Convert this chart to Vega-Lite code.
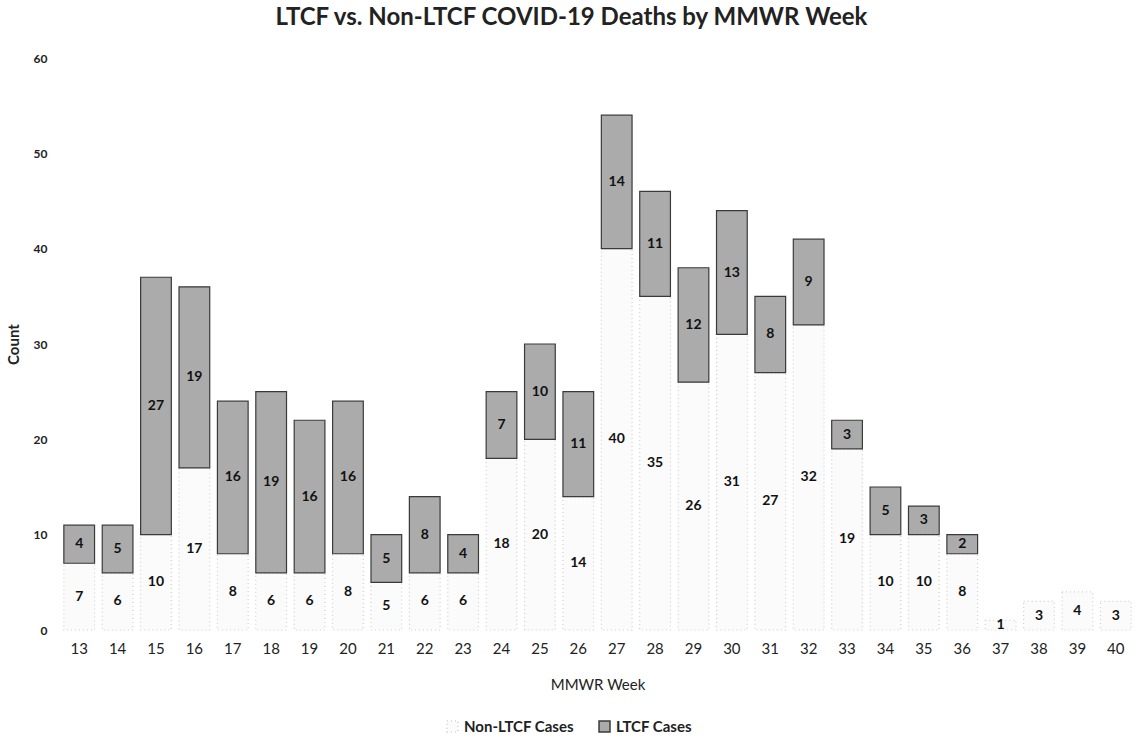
{
  "$schema": "https://vega.github.io/schema/vega-lite/v6.json",
  "width": 1075,
  "height": 572,
  "autosize": {"type": "none"},
  "padding": {"left": 60, "top": 58, "right": 3, "bottom": 108},
  "background": "white",
  "config": {"font": "Lato", "view": {"stroke": null}},
  "title": {
    "text": "LTCF vs. Non-LTCF COVID-19 Deaths by MMWR Week",
    "fontSize": 24,
    "fontWeight": "bold",
    "color": "#222",
    "anchor": "middle",
    "dx": -26,
    "offset": 22
  },
  "data": {
    "values": [
      {"week": 13, "type": "Non-LTCF Cases", "count": 7}, {"week": 13, "type": "LTCF Cases", "count": 4},
      {"week": 14, "type": "Non-LTCF Cases", "count": 6}, {"week": 14, "type": "LTCF Cases", "count": 5},
      {"week": 15, "type": "Non-LTCF Cases", "count": 10}, {"week": 15, "type": "LTCF Cases", "count": 27},
      {"week": 16, "type": "Non-LTCF Cases", "count": 17}, {"week": 16, "type": "LTCF Cases", "count": 19},
      {"week": 17, "type": "Non-LTCF Cases", "count": 8}, {"week": 17, "type": "LTCF Cases", "count": 16},
      {"week": 18, "type": "Non-LTCF Cases", "count": 6}, {"week": 18, "type": "LTCF Cases", "count": 19},
      {"week": 19, "type": "Non-LTCF Cases", "count": 6}, {"week": 19, "type": "LTCF Cases", "count": 16},
      {"week": 20, "type": "Non-LTCF Cases", "count": 8}, {"week": 20, "type": "LTCF Cases", "count": 16},
      {"week": 21, "type": "Non-LTCF Cases", "count": 5}, {"week": 21, "type": "LTCF Cases", "count": 5},
      {"week": 22, "type": "Non-LTCF Cases", "count": 6}, {"week": 22, "type": "LTCF Cases", "count": 8},
      {"week": 23, "type": "Non-LTCF Cases", "count": 6}, {"week": 23, "type": "LTCF Cases", "count": 4},
      {"week": 24, "type": "Non-LTCF Cases", "count": 18}, {"week": 24, "type": "LTCF Cases", "count": 7},
      {"week": 25, "type": "Non-LTCF Cases", "count": 20}, {"week": 25, "type": "LTCF Cases", "count": 10},
      {"week": 26, "type": "Non-LTCF Cases", "count": 14}, {"week": 26, "type": "LTCF Cases", "count": 11},
      {"week": 27, "type": "Non-LTCF Cases", "count": 40}, {"week": 27, "type": "LTCF Cases", "count": 14},
      {"week": 28, "type": "Non-LTCF Cases", "count": 35}, {"week": 28, "type": "LTCF Cases", "count": 11},
      {"week": 29, "type": "Non-LTCF Cases", "count": 26}, {"week": 29, "type": "LTCF Cases", "count": 12},
      {"week": 30, "type": "Non-LTCF Cases", "count": 31}, {"week": 30, "type": "LTCF Cases", "count": 13},
      {"week": 31, "type": "Non-LTCF Cases", "count": 27}, {"week": 31, "type": "LTCF Cases", "count": 8},
      {"week": 32, "type": "Non-LTCF Cases", "count": 32}, {"week": 32, "type": "LTCF Cases", "count": 9},
      {"week": 33, "type": "Non-LTCF Cases", "count": 19}, {"week": 33, "type": "LTCF Cases", "count": 3},
      {"week": 34, "type": "Non-LTCF Cases", "count": 10}, {"week": 34, "type": "LTCF Cases", "count": 5},
      {"week": 35, "type": "Non-LTCF Cases", "count": 10}, {"week": 35, "type": "LTCF Cases", "count": 3},
      {"week": 36, "type": "Non-LTCF Cases", "count": 8}, {"week": 36, "type": "LTCF Cases", "count": 2},
      {"week": 37, "type": "Non-LTCF Cases", "count": 1}, {"week": 37, "type": "LTCF Cases", "count": 0},
      {"week": 38, "type": "Non-LTCF Cases", "count": 3}, {"week": 38, "type": "LTCF Cases", "count": 0},
      {"week": 39, "type": "Non-LTCF Cases", "count": 4}, {"week": 39, "type": "LTCF Cases", "count": 0},
      {"week": 40, "type": "Non-LTCF Cases", "count": 3}, {"week": 40, "type": "LTCF Cases", "count": 0}
    ]
  },
  "transform": [
    {"calculate": "datum.type === 'Non-LTCF Cases' ? 0 : 1", "as": "ord"},
    {"stack": "count", "groupby": ["week"], "sort": [{"field": "ord", "order": "ascending"}], "as": ["y0", "y1"]},
    {"calculate": "(datum.y0 + datum.y1) / 2", "as": "ymid"},
    {"filter": "datum.count > 0"}
  ],
  "encoding": {
    "x": {
      "field": "week",
      "type": "ordinal",
      "scale": {"paddingInner": 0.2, "paddingOuter": 0.1},
      "axis": {
        "title": "MMWR Week",
        "labelAngle": 0,
        "labelFontSize": 15,
        "labelColor": "#222",
        "labelPadding": 11,
        "domain": false,
        "ticks": false,
        "titleFontSize": 15,
        "titleFontWeight": "normal",
        "titleColor": "#222",
        "titlePadding": 21
      }
    }
  },
  "layer": [
    {
      "mark": {"type": "bar", "strokeWidth": 1.2},
      "encoding": {
        "y": {
          "field": "y0",
          "type": "quantitative",
          "scale": {"domain": [0, 60]},
          "axis": {
            "title": "Count",
            "values": [0, 10, 20, 30, 40, 50, 60],
            "grid": false,
            "domain": false,
            "ticks": false,
            "labelFontSize": 12,
            "labelFontWeight": "bold",
            "labelColor": "#222",
            "labelPadding": 13,
            "titleFontSize": 15,
            "titleFontWeight": "bold",
            "titleColor": "#222",
            "titlePadding": 12
          }
        },
        "y2": {"field": "y1"},
        "fill": {
          "field": "type",
          "type": "nominal",
          "scale": {"domain": ["Non-LTCF Cases", "LTCF Cases"], "range": ["#fbfbfb", "#ababab"]},
          "legend": {
            "title": null,
            "orient": "none",
            "direction": "horizontal",
            "legendX": 385,
            "legendY": 661,
            "labelFontSize": 15,
            "labelFontWeight": "bold",
            "labelColor": "#222",
            "symbolType": "square",
            "symbolSize": 120,
            "symbolStrokeColor": "#777",
            "columnPadding": 22
          }
        },
        "stroke": {
          "field": "type",
          "type": "nominal",
          "scale": {"domain": ["Non-LTCF Cases", "LTCF Cases"], "range": ["#cfcfcf", "#3a3a3a"]},
          "legend": null
        },
        "strokeDash": {
          "field": "type",
          "type": "nominal",
          "scale": {"domain": ["Non-LTCF Cases", "LTCF Cases"], "range": [[1, 3], [1, 0]]},
          "legend": null
        }
      }
    },
    {
      "mark": {"type": "text", "fontSize": 14, "fontWeight": "bold", "color": "#111", "baseline": "middle"},
      "encoding": {
        "y": {"field": "ymid", "type": "quantitative"},
        "text": {"field": "count", "type": "quantitative"}
      }
    }
  ]
}
